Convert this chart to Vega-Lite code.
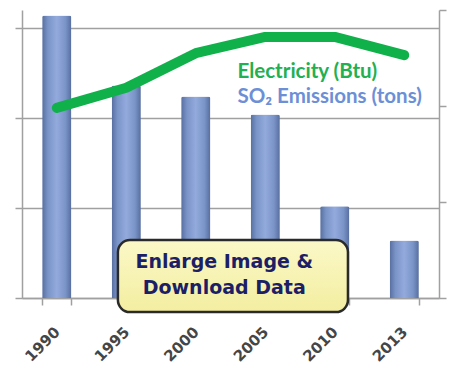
{
  "$schema": "https://vega.github.io/schema/vega-lite/v6.json",
  "width": 417,
  "height": 288,
  "autosize": "none",
  "padding": {"left": 22, "top": 10, "right": 10, "bottom": 70},
  "background": "white",
  "config": {"view": {"stroke": null}},
  "datasets": {
    "series": [
      {"year": "1990", "so2": 15.7, "elec": 9.9},
      {"year": "1995", "so2": 11.8, "elec": 10.95},
      {"year": "2000", "so2": 11.2, "elec": 12.75},
      {"year": "2005", "so2": 10.2, "elec": 13.6},
      {"year": "2010", "so2": 5.1, "elec": 13.6},
      {"year": "2013", "so2": 3.2, "elec": 12.65}
    ],
    "box": [{"x0": 1.38, "x1": 4.69, "y0": 3.22, "y1": -0.78}],
    "boxtext": [
      {"label": "Enlarge Image &", "px": 2.91, "py": 2.0},
      {"label": "Download Data", "px": 2.91, "py": 0.55}
    ],
    "legend": [
      {"label": "Electricity (Btu)", "series": "Electricity", "px": 3.1, "py": 12.55},
      {"label": "SO₂ Emissions (tons)", "series": "SO2", "px": 3.1, "py": 11.15}
    ]
  },
  "layer": [
    {
      "data": {"name": "series"},
      "layer": [
        {
          "mark": {
            "type": "bar",
            "cornerRadiusTopLeft": 2,
            "cornerRadiusTopRight": 2,
            "color": {
              "gradient": "linear",
              "x1": 0, "y1": 0, "x2": 1, "y2": 0,
              "stops": [
                {"offset": 0, "color": "#566e9f"},
                {"offset": 0.2, "color": "#7b94c8"},
                {"offset": 0.5, "color": "#92aadc"},
                {"offset": 0.8, "color": "#7b94c8"},
                {"offset": 1, "color": "#566e9f"}
              ]
            }
          },
          "encoding": {
            "x": {
              "field": "year",
              "type": "ordinal",
              "scale": {"paddingInner": 0.58, "paddingOuter": 0.29},
              "axis": {
                "title": null,
                "labelAngle": -45,
                "labelAlign": "right",
                "labelBaseline": "middle",
                "labelFont": "DejaVu Sans",
                "labelFontSize": 15,
                "labelFontWeight": "bold",
                "labelColor": "#454545",
                "labelPadding": 24,
                "tickBand": "extent",
                "tickSize": 7,
                "tickColor": "#a0a0a0",
                "tickWidth": 1.5,
                "domainColor": "#a0a0a0",
                "domainWidth": 1.5,
                "grid": false
              }
            },
            "y": {
              "field": "so2",
              "type": "quantitative",
              "scale": {"domain": [0, 16], "nice": false},
              "axis": {
                "title": null,
                "labels": false,
                "values": [0, 5, 10, 15],
                "tickSize": 7,
                "tickColor": "#a0a0a0",
                "tickWidth": 1.5,
                "domainColor": "#a0a0a0",
                "domainWidth": 1.5,
                "grid": true,
                "gridColor": "#a0a0a0",
                "gridWidth": 1.5
              }
            }
          }
        },
        {
          "mark": {
            "type": "line",
            "color": "#10b14a",
            "strokeWidth": 10,
            "strokeCap": "round",
            "strokeJoin": "round"
          },
          "encoding": {
            "x": {"field": "year", "type": "ordinal"},
            "y": {
              "field": "elec",
              "type": "quantitative",
              "scale": {"domain": [0, 15], "nice": false},
              "axis": {
                "orient": "right",
                "title": null,
                "labels": false,
                "values": [0, 5, 10, 15],
                "tickSize": 7,
                "tickColor": "#a0a0a0",
                "tickWidth": 1.5,
                "domainColor": "#a0a0a0",
                "domainWidth": 1.5,
                "grid": false
              }
            }
          }
        }
      ],
      "resolve": {"scale": {"y": "independent"}}
    },
    {
      "layer": [
        {
          "data": {"name": "legend"},
          "mark": {
            "type": "text",
            "align": "left",
            "baseline": "middle",
            "font": "Lato",
            "fontSize": 20.5,
            "fontWeight": "bold"
          },
          "encoding": {
            "x": {"field": "px", "type": "quantitative", "scale": {"domain": [0, 6], "nice": false, "zero": false}, "axis": null},
            "y": {"field": "py", "type": "quantitative", "scale": {"domain": [0, 16], "nice": false}, "axis": null},
            "text": {"field": "label"},
            "color": {
              "field": "series",
              "type": "nominal",
              "scale": {"domain": ["Electricity", "SO2"], "range": ["#22b052", "#6c8fd6"]},
              "legend": null
            }
          }
        },
        {
          "data": {"name": "box"},
          "mark": {
            "type": "rect",
            "cornerRadius": 12,
            "stroke": "#2a2a2a",
            "strokeWidth": 2.5,
            "fill": {
              "gradient": "linear",
              "x1": 0, "y1": 0, "x2": 0, "y2": 1,
              "stops": [
                {"offset": 0, "color": "#fbf8c8"},
                {"offset": 1, "color": "#f3eea0"}
              ]
            }
          },
          "encoding": {
            "x": {"field": "x0", "type": "quantitative"},
            "x2": {"field": "x1"},
            "y": {"field": "y0", "type": "quantitative"},
            "y2": {"field": "y1"}
          }
        },
        {
          "data": {"name": "boxtext"},
          "mark": {
            "type": "text",
            "align": "center",
            "baseline": "middle",
            "font": "DejaVu Sans",
            "fontSize": 19,
            "fontWeight": "bold",
            "color": "#1c1f66"
          },
          "encoding": {
            "x": {"field": "px", "type": "quantitative"},
            "y": {"field": "py", "type": "quantitative"},
            "text": {"field": "label"}
          }
        }
      ]
    }
  ],
  "resolve": {"scale": {"x": "independent", "y": "independent"}}
}
